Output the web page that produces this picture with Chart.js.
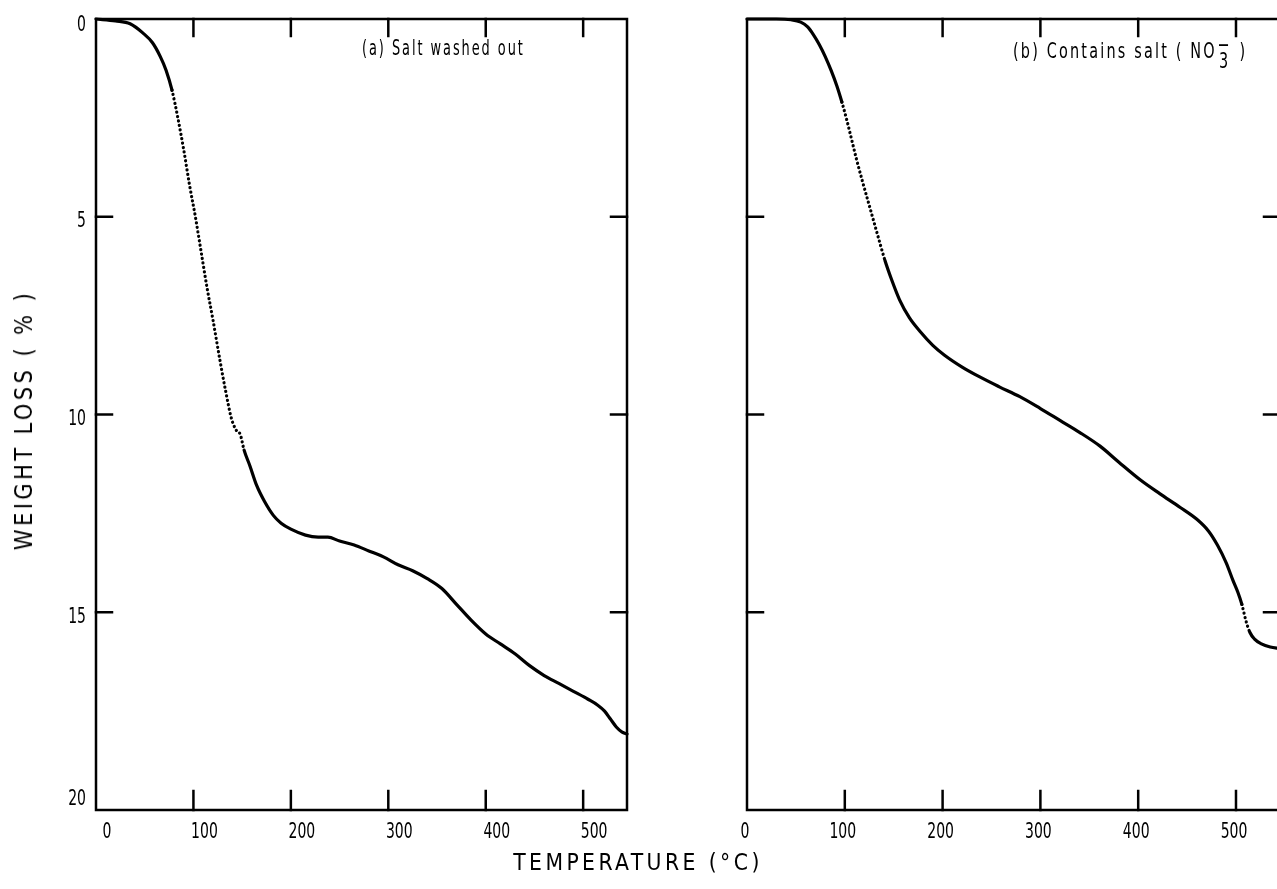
<!DOCTYPE html>
<html><head><meta charset="utf-8">
<script src="https://cdn.jsdelivr.net/npm/chart.js@4/dist/chart.umd.min.js"></script>
<style>
html,body{margin:0;padding:0;overflow:hidden;background:#fff;}
#wrap{position:relative;width:1277px;height:889px;overflow:hidden;background:#fff;}
canvas{position:absolute;top:0;}
#cA{left:0;}
#cB{left:640px;}
.txt{position:absolute;font-family:'DejaVu Sans Condensed','DejaVu Sans',sans-serif;color:#000;white-space:nowrap;line-height:1;}
#ytitle{left:24px;top:420px;font-size:24px;letter-spacing:3.5px;}
#xtitle{left:638px;top:862px;font-size:23px;letter-spacing:3.5px;}
#annA{left:362px;top:37px;font-size:22px;letter-spacing:3px;transform-origin:0 50%;}
#annB{left:1013px;top:37px;font-size:22px;letter-spacing:3px;transform-origin:0 50%;}
.stack{display:inline-block;vertical-align:-10px;text-align:center;line-height:0.72;margin:0 1px;}
.stack span{display:block;}
</style>
</head><body>
<div id="wrap">
<canvas id="cA" width="660" height="889"></canvas>
<canvas id="cB" width="660" height="889"></canvas>
<div class="txt" id="ytitle">WEIGHT LOSS ( % )</div>
<div class="txt" id="xtitle">TEMPERATURE (°C)</div>
<div class="txt" id="annA">(a) Salt washed out</div>
<div class="txt" id="annB">(b) Contains salt ( NO<span class="stack"><span>−</span><span>3</span></span> )</div>
</div>
<script>
// ---- data ----
const xTicks = [0, 100, 200, 300, 400, 500];
const yTicks = [0, 5, 10, 15, 20];

const tempA = [0, 20, 35, 48, 58, 66, 72, 78, 84, 90, 96, 102, 108, 114, 120, 127, 133, 139, 144, 148, 152, 158, 165, 173, 182, 190, 200, 215, 228, 238, 250, 265, 280, 295, 310, 325, 340, 355, 370, 385, 400, 415, 430, 445, 460, 475, 490, 505, 515, 522, 528, 534, 540, 545];
const lossA = [0, 0.05, 0.12, 0.35, 0.6, 0.95, 1.3, 1.8, 2.5, 3.3, 4.2, 5.0, 5.9, 6.8, 7.6, 8.6, 9.4, 10.1, 10.4, 10.5, 10.9, 11.3, 11.8, 12.2, 12.55, 12.75, 12.9, 13.05, 13.1, 13.1, 13.2, 13.3, 13.45, 13.6, 13.8, 13.95, 14.15, 14.4, 14.8, 15.2, 15.55, 15.8, 16.05, 16.35, 16.6, 16.8, 17.0, 17.2, 17.35, 17.5, 17.7, 17.9, 18.03, 18.08];

const tempB = [0, 30, 45, 55, 62, 68, 74, 80, 86, 92, 97, 102, 107, 112, 118, 126, 134, 141, 148, 156, 166, 177, 190, 202, 220, 238, 258, 279, 300, 320, 340, 361, 380, 402, 422, 443, 460, 472, 481, 490, 497, 502, 506, 510, 514, 519, 526, 535, 545];
const lossB = [0, 0, 0.02, 0.08, 0.2, 0.4, 0.65, 0.95, 1.3, 1.7, 2.1, 2.55, 3.05, 3.55, 4.1, 4.8, 5.5, 6.1, 6.6, 7.1, 7.55, 7.9, 8.25, 8.5, 8.8, 9.05, 9.3, 9.55, 9.85, 10.15, 10.45, 10.8, 11.2, 11.65, 12.0, 12.35, 12.65, 12.95, 13.3, 13.75, 14.2, 14.5, 14.8, 15.2, 15.5, 15.68, 15.8, 15.88, 15.92];

// temperature ranges where the recorder trace is dotted
const dottedA = [[78, 150]];
const dottedB = [[97, 141], [504, 514]];

// ---- drawing ----
const LABEL_FONT = "21px 'DejaVu Sans Condensed','DejaVu Sans',sans-serif";

const frame = {
  id: 'frame',
  afterDatasetsDraw(chart, args, opts) {
    const {ctx, chartArea: a, scales: {x, y}} = chart;
    ctx.save();
    ctx.strokeStyle = '#000';
    ctx.lineWidth = 2.5;
    ctx.lineCap = 'square';
    const line = (x1, y1, x2, y2) => { ctx.beginPath(); ctx.moveTo(x1, y1); ctx.lineTo(x2, y2); ctx.stroke(); };
    ctx.strokeRect(a.left, a.top, a.right - a.left, a.bottom - a.top);
    x.ticks.forEach(t => {
      if (t.value === 0) return;
      const px = x.getPixelForValue(t.value);
      line(px, a.bottom, px, a.bottom - 19);
      line(px, a.top, px, a.top + 17);
    });
    y.ticks.forEach(t => {
      if (t.value === 0 || t.value === 20) return;
      const py = y.getPixelForValue(t.value);
      line(a.left, py, a.left + 16, py);
      line(a.right, py, a.right - 16, py);
    });
    // tick labels (condensed lettering)
    ctx.fillStyle = '#000';
    ctx.font = LABEL_FONT;
    ctx.textAlign = 'center';
    ctx.textBaseline = 'alphabetic';
    x.ticks.forEach(t => {
      const px = x.getPixelForValue(t.value) + opts.xLabelShift;
      ctx.save(); ctx.translate(px, a.bottom + 28); ctx.scale(0.74, 1);
      ctx.fillText(String(t.label), 0, 0); ctx.restore();
    });
    if (opts.showY) {
      ctx.textAlign = 'right';
      ctx.textBaseline = 'middle';
      y.ticks.forEach(t => {
        let py = y.getPixelForValue(t.value) + 5;
        py = Math.min(Math.max(py, a.top + 7), a.bottom - 10);
        ctx.save(); ctx.translate(a.left - 10, py); ctx.scale(0.74, 1);
        ctx.fillText(String(t.label), 0, 0); ctx.restore();
      });
    }
    ctx.restore();
  }
};

function makeChart(id, temps, losses, dotted, yWidth, rightPad, showY, xLabelShift) {
  const inDotted = t => dotted.some(r => t >= r[0] && t < r[1]);
  return new Chart(document.getElementById(id), {
    type: 'line',
    data: {
      datasets: [{
        data: temps.map((t, i) => ({x: t, y: losses[i]})),
        borderColor: '#000',
        borderWidth: 3.2,
        borderCapStyle: 'round',
        pointRadius: 0,
        cubicInterpolationMode: 'monotone',
        clip: 4,
        segment: {
          borderDash: c => inDotted(c.p0.parsed.x) ? [0.1, 4.4] : undefined
        }
      }]
    },
    options: {
      responsive: false,
      animation: false,
      devicePixelRatio: 1,
      layout: {padding: {top: 19, right: rightPad, left: 0, bottom: 0}},
      plugins: {legend: {display: false}, tooltip: {enabled: false},
                frame: {showY: showY, xLabelShift: xLabelShift}},
      scales: {
        x: {
          type: 'linear', min: 0, max: 545,
          afterBuildTicks: s => { s.ticks = xTicks.map(v => ({value: v})); },
          afterFit: s => { s.height = 79; },
          grid: {display: false, drawTicks: false},
          border: {display: false},
          ticks: {display: false}
        },
        y: {
          type: 'linear', reverse: true, min: 0, max: 20,
          afterBuildTicks: s => { s.ticks = yTicks.map(v => ({value: v})); },
          afterFit: s => { s.width = yWidth; },
          grid: {display: false, drawTicks: false},
          border: {display: false},
          ticks: {display: false}
        }
      }
    },
    plugins: [frame]
  });
}

makeChart('cA', tempA, lossA, dottedA, 96, 33, true, 11);
makeChart('cB', tempB, lossB, dottedB, 107, 20, false, -2);

// fit the hand-lettered texts to the widths they occupy in the figure
function fit(id, width, base) {
  const el = document.getElementById(id);
  const s = width / el.offsetWidth;
  el.style.transform = (base || '') + ' scaleX(' + s.toFixed(3) + ')';
}
fit('annA', 163);
fit('annB', 234);
fit('xtitle', 250, 'translate(-50%,-50%)');
fit('ytitle', 260, 'translate(-50%,-50%) rotate(-90deg)');
</script>
</body></html>
